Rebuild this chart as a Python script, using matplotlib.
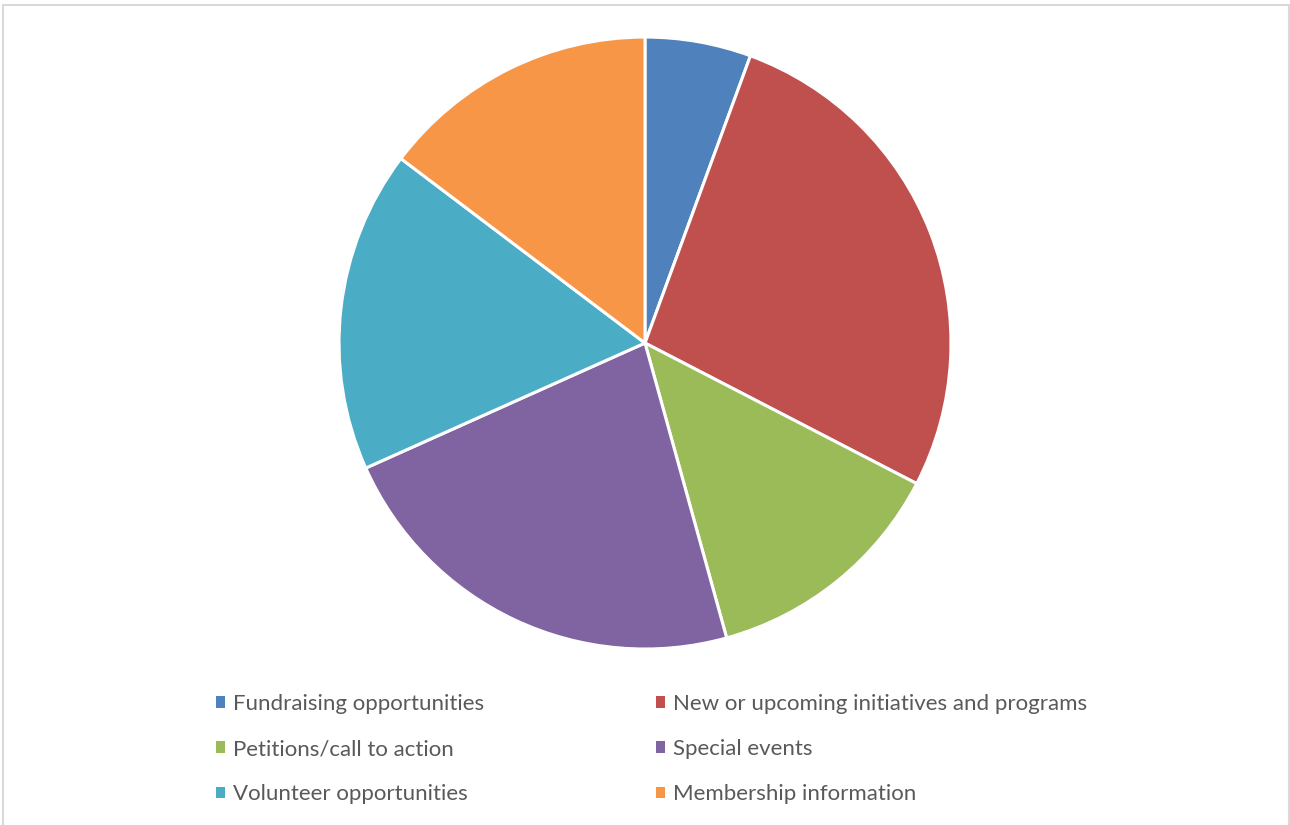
import matplotlib
matplotlib.use("Agg")
import matplotlib.pyplot as plt
from matplotlib.patches import Patch, Rectangle

# Share of each content type
labels = [
    "Fundraising opportunities",
    "New or upcoming initiatives and programs",
    "Petitions/call to action",
    "Special events",
    "Volunteer opportunities",
    "Membership information",
]
values = [5.6, 27.0, 13.1, 22.6, 17.0, 14.7]
colors = ["#4F81BD", "#C0504D", "#9BBB59", "#8064A2", "#4BACC6", "#F79646"]

plt.rcParams["font.family"] = ["Lato", "DejaVu Sans"]

fig = plt.figure(figsize=(12.9, 8.25), dpi=100)

# light grey chart-area border
fig.patches.append(Rectangle((0.002, -0.01), 0.997, 1.004, transform=fig.transFigure,
                             fill=False, edgecolor="#D9D9D9", linewidth=1.5))

ax = fig.add_axes([0.2628, 0.2133, 0.4744, 0.7418])
ax.pie(values, colors=colors, startangle=90, counterclock=False,
       wedgeprops=dict(edgecolor="white", linewidth=2.2))
ax.set_xlim(-1, 1)
ax.set_ylim(-1, 1)
ax.set_aspect("equal")
ax.axis("off")

# legend: two columns filled row by row
handles = [Patch(facecolor=c, edgecolor="none") for c in colors]
order = [0, 2, 4, 1, 3, 5]
fig.legend([handles[i] for i in order], [labels[i] for i in order],
           ncol=2, loc="upper left", bbox_to_anchor=(0.1605, 0.1695),
           frameon=False, fontsize=16, labelcolor="#595959",
           handlelength=0.42, handleheight=0.42, handletextpad=0.35,
           columnspacing=7.72, labelspacing=1.13, borderaxespad=0)

fig.savefig("out.png", dpi=100)
